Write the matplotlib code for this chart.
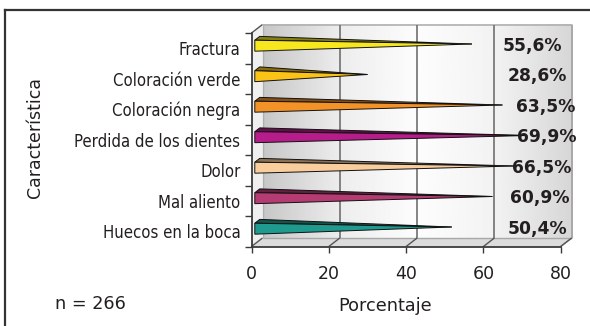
import numpy as np
import matplotlib
matplotlib.use("Agg")
import matplotlib.pyplot as plt
from matplotlib.patches import Polygon
from matplotlib.lines import Line2D
from matplotlib.colors import to_rgb

# datos (de abajo hacia arriba)
categories = ["Huecos en la boca", "Mal aliento", "Dolor", "Perdida de los dientes",
              "Coloración negra", "Coloración verde", "Fractura"]
values = [50.4, 60.9, 66.5, 69.9, 63.5, 28.6, 55.6]
x_ticks = [0, 20, 40, 60, 80]
n_total = 266

# estilo
bar_colors = ["#1f9a8f", "#b53b73", "#facd9c", "#b61c8a", "#f39226", "#fbc316", "#f6e71e"]
label_x = [73.9, 74.6, 75.2, 76.5, 76.0, 73.9, 72.6]
DEPTH = (11.0, 8.5)  # profundidad del efecto 3D en pixeles
W, H = 590, 326

fig = plt.figure(figsize=(W / 100, H / 100), dpi=100)
ax = fig.add_axes([251.5 / W, (H - 246.5) / H, 309.2 / W, 213.5 / H])
ax.set_xlim(0, 80)
ax.set_ylim(-0.5, 6.5)
ax.patch.set_visible(False)


def shift(x, y, k):
    # desplaza un punto de datos k veces la profundidad (en pixeles)
    px, py = ax.transData.transform((x, y))
    return ax.transData.inverted().transform((px + k * DEPTH[0], py + k * DEPTH[1]))


def poly(pts, **kw):
    ax.add_patch(Polygon(pts, closed=True, clip_on=False, **kw))


def line(p, q, **kw):
    ax.plot([p[0], q[0]], [p[1], q[1]], clip_on=False, solid_capstyle="butt", **kw)


y0, y1 = -0.5, 6.5

# pared del fondo con degradado
bx0, by0 = shift(0, y0, 1)
bx1, by1 = shift(80, y1, 1)
anchors = [0.0, 0.25, 0.5, 0.75, 1.0]
levels = [0.78, 0.93, 0.99, 0.95, 0.84]
grad = np.interp(np.linspace(0, 1, 256), anchors, levels)
ax.imshow(np.tile(grad, (2, 1)), cmap="gray", vmin=0, vmax=1, aspect="auto",
          extent=(bx0, bx1, by0, by1), origin="lower", zorder=0, clip_on=False,
          interpolation="bilinear")

# pared izquierda y piso
poly([(0, y0), (0, y1), shift(0, y1, 1), shift(0, y0, 1)],
     facecolor="#efefef", edgecolor="none", zorder=0.5)
poly([(0, y0), (80, y0), shift(80, y0, 1), shift(0, y0, 1)],
     facecolor="#dcdcdc", edgecolor="none", zorder=0.5)

# bordes de la pared
line(shift(0, y1, 1), shift(80, y1, 1), color="#b0b0b0", lw=1.2, zorder=1)
line(shift(80, y1, 1), shift(80, y0, 1), color="#a0a0a0", lw=1.2, zorder=1)
line(shift(0, y1, 1), shift(0, y0, 1), color="#b0b0b0", lw=1.0, zorder=1)
line(shift(0, y0, 1), shift(80, y0, 1), color="#a8a8a8", lw=1.0, zorder=1)
line((0, y1), shift(0, y1, 1), color="#555555", lw=1.0, zorder=1)
line((80, y0), shift(80, y0, 1), color="#999999", lw=1.0, zorder=1)

# rejilla en la pared y en el piso
for t in x_ticks[1:-1]:
    line(shift(t, y0, 1), shift(t, y1, 1), color="#707070", lw=1.2, zorder=1)
for t in x_ticks:
    line((t, y0), shift(t, y0, 1), color="#555555", lw=1.0, zorder=1)

# barras en forma de cono
half = 0.18
k_front, k_back, k_tip = 0.3, 0.75, 0.5
for i, (v, c) in enumerate(zip(values, bar_colors)):
    rgb = np.array(to_rgb(c))
    base_lo = shift(0, i - half, k_front)
    base_hi = shift(0, i + half, k_front)
    back_hi = shift(0, i + half, k_back)
    tip = shift(v, i, k_tip)
    poly([base_hi, back_hi, tip], facecolor=rgb * 0.55, edgecolor="#111111",
         lw=0.7, zorder=3)
    poly([base_lo, base_hi, tip], facecolor=c, edgecolor="#111111",
         lw=0.7, zorder=3.2)
    ly = shift(0, i, k_front)[1]
    ax.text(label_x[i], ly, f"{v:.1f}%".replace(".", ","), ha="center", va="center",
            fontsize=12.3, fontweight="bold", color="#231f20", zorder=5)

# ejes
for side in ["top", "right"]:
    ax.spines[side].set_visible(False)
for side in ["left", "bottom"]:
    ax.spines[side].set_color("#3a3a3a")
    ax.spines[side].set_linewidth(1.3)
    ax.spines[side].set_zorder(4)

ax.set_xticks(x_ticks)
ax.tick_params(axis="x", length=4, width=1, color="#3a3a3a", pad=9,
               labelsize=12.5, labelcolor="#231f20")
ax.set_yticks(range(len(categories)))
ax.set_yticklabels(categories, fontstretch="condensed")
ax.set_yticks(np.arange(-0.5, len(categories), 1), minor=True)
ax.tick_params(axis="y", which="major", length=0, pad=8, labelsize=12,
               labelcolor="#231f20")
ax.tick_params(axis="y", which="minor", length=5, width=1, color="#3a3a3a")

fig.text(35 / W, 1 - 138 / H, "Característica", rotation=90, ha="center", va="center",
         fontsize=12.5, color="#231f20")
fig.text(385 / W, 1 - 306 / H, "Porcentaje", ha="center", va="center",
         fontsize=12.7, color="#231f20")
fig.text(55 / W, 1 - 304 / H, f"n = {n_total}", ha="left", va="center",
         fontsize=12.7, color="#231f20")

# marco
fig.add_artist(Line2D([5 / W, 1], [1 - 10 / H, 1 - 10 / H], color="#333333", lw=1.6))
fig.add_artist(Line2D([5 / W, 5 / W], [1 - 10 / H, 0], color="#333333", lw=1.6))

fig.savefig("out.png", dpi=100)
